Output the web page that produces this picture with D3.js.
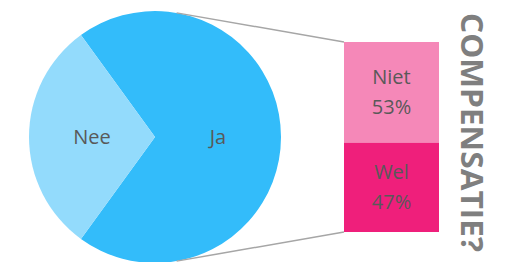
<!DOCTYPE html>
<html>
<head>
<meta charset="utf-8">
<script src="https://cdn.jsdelivr.net/npm/d3@7/dist/d3.min.js"></script>
<style>
  html, body { margin: 0; padding: 0; background: #fff; }
  svg { display: block; font-family: "Open Sans", sans-serif; }
</style>
</head>
<body>
<svg id="chart" width="516" height="262"></svg>
<script>
// pie: main split
const pieLabels = ['Ja', 'Nee'];
const pieValues = [70, 30];
const pieColors = ['#33bcfa', '#93dbfc'];

// bar: breakdown of "Ja"
const barLabels = ['Niet', 'Wel'];
const barValues = [53, 47];
const barColors = ['#f588b8', '#ef1f7b'];

const title = 'COMPENSATIE?';

const svg = d3.select('#chart');
const cx = 155, cy = 137, r = 126;

// Nee slice centred on the left side of the pie
const total = d3.sum(pieValues);
const neeShare = pieValues[1] / total;
const pie = d3.pie().sort(null).startAngle(-Math.PI / 2 + neeShare * Math.PI).endAngle(-Math.PI / 2 + neeShare * Math.PI + 2 * Math.PI);
const arcs = pie(pieValues);
const arc = d3.arc().innerRadius(0).outerRadius(r);

const gPie = svg.append('g').attr('transform', `translate(${cx},${cy})`);
gPie.selectAll('path')
  .data(arcs)
  .enter()
  .append('path')
  .attr('d', arc)
  .attr('fill', (d, i) => pieColors[i]);

gPie.selectAll('text')
  .data(arcs)
  .enter()
  .append('text')
  .attr('x', d => arc.centroid(d)[0])
  .attr('y', d => arc.centroid(d)[1] + 7)
  .attr('text-anchor', 'middle')
  .attr('font-size', 20)
  .attr('fill', '#595959')
  .text((d, i) => pieLabels[i]);

// stacked bar
const barX0 = 344, barX1 = 439;
const y = d3.scaleLinear().domain([0, d3.sum(barValues)]).range([42, 232]);
let acc = 0;
const segs = barValues.map((v, i) => {
  const s = {label: barLabels[i], value: v, y0: acc, y1: acc + v, color: barColors[i]};
  acc += v;
  return s;
});

const gBar = svg.append('g');
gBar.selectAll('rect')
  .data(segs)
  .enter()
  .append('rect')
  .attr('x', barX0)
  .attr('y', d => y(d.y0))
  .attr('width', barX1 - barX0)
  .attr('height', d => y(d.y1) - y(d.y0))
  .attr('fill', d => d.color);

segs.forEach(d => {
  const mid = (y(d.y0) + y(d.y1)) / 2;
  const t = gBar.append('text')
    .attr('text-anchor', 'middle')
    .attr('font-size', 20)
    .attr('fill', '#595959');
  t.append('tspan').attr('x', (barX0 + barX1) / 2).attr('y', mid - 8).text(d.label);
  t.append('tspan').attr('x', (barX0 + barX1) / 2).attr('y', mid + 22).text(d.value + '%');
});

// connector lines, tangent to the pie
function tangentPoint(px, py, side) {
  const dx = px - cx, dy = py - cy;
  const d = Math.sqrt(dx * dx + dy * dy);
  const a = Math.atan2(dy, dx) + side * Math.acos(r / d);
  return [cx + r * Math.cos(a), cy + r * Math.sin(a)];
}
const corners = [[barX0, y(0), -1], [barX0, y(d3.sum(barValues)), 1]];
corners.forEach(c => {
  const t = tangentPoint(c[0], c[1], c[2]);
  svg.append('line')
    .attr('x1', t[0]).attr('y1', t[1])
    .attr('x2', c[0]).attr('y2', c[1])
    .attr('stroke', '#a6a6a6')
    .attr('stroke-width', 1.5);
});

// vertical title
svg.append('text')
  .attr('transform', 'translate(461,132.5) rotate(90)')
  .attr('text-anchor', 'middle')
  .attr('font-size', 30)
  .attr('font-weight', 'bold')
  .attr('fill', '#7f7f7f')
  .attr('textLength', 239)
  .attr('lengthAdjust', 'spacingAndGlyphs')
  .text(title);
</script>
</body>
</html>
